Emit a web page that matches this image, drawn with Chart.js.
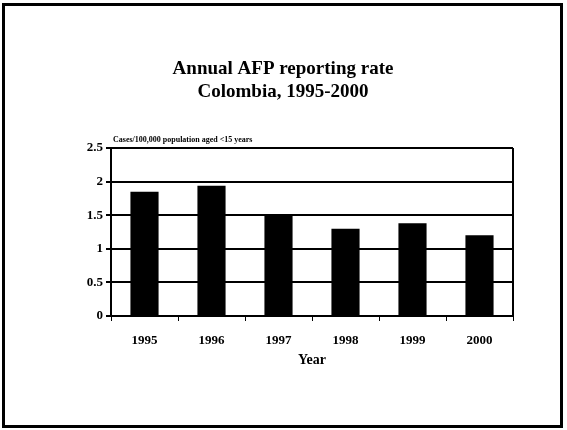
<!DOCTYPE html>
<html>
<head>
<meta charset="utf-8">
<script src="https://cdn.jsdelivr.net/npm/chart.js@4/dist/chart.umd.min.js"></script>
<style>
  html, body { margin: 0; padding: 0; background: #fff; }
  #wrap { width: 567px; height: 430px; }
</style>
</head>
<body>
<div id="wrap"><canvas id="afpChart" width="567" height="430"></canvas></div>
<script>
// data
const years = ["1995", "1996", "1997", "1998", "1999", "2000"];
const rates = [1.85, 1.94, 1.5, 1.3, 1.38, 1.2];
const yTicks = [0, 0.5, 1, 1.5, 2, 2.5];
const titleLines = ["Annual AFP reporting rate", "Colombia, 1995-2000"];
const yUnitLabel = "Cases/100,000 population aged <15 years";
const xTitle = "Year";

const serif = "'Liberation Serif', 'DejaVu Serif', serif";

// slide frame, titles, unit label and plot border
const slideDecor = {
  id: "slideDecor",
  beforeDraw(chart) {
    const c = chart.ctx;
    c.save();
    c.fillStyle = "#fff";
    c.fillRect(0, 0, chart.width, chart.height);
    c.restore();
  },
  afterDraw(chart) {
    const c = chart.ctx;
    const a = chart.chartArea;
    c.save();
    // outer frame
    c.strokeStyle = "#000";
    c.lineWidth = 3;
    c.strokeRect(3.5, 4.5, 558, 422);
    // title
    c.fillStyle = "#000";
    c.textAlign = "center";
    c.textBaseline = "alphabetic";
    c.font = "bold 19px " + serif;
    c.fillText(titleLines[0], 283, 74);
    c.fillText(titleLines[1], 283, 97);
    // unit label above the y axis
    c.textAlign = "left";
    c.font = "bold 8px " + serif;
    c.fillText(yUnitLabel, 113, 142);
    // right border of the plot
    c.lineWidth = 2;
    c.beginPath();
    c.moveTo(a.right, a.top);
    c.lineTo(a.right, a.bottom);
    c.stroke();
    c.restore();
  }
};

new Chart(document.getElementById("afpChart"), {
  type: "bar",
  data: {
    labels: years,
    datasets: [{
      label: "AFP rate",
      data: rates,
      backgroundColor: "#000",
      borderWidth: 0,
      barPercentage: 0.84,
      categoryPercentage: 0.5
    }]
  },
  options: {
    responsive: false,
    animation: false,
    layout: { padding: { left: 0, top: 148, right: 54, bottom: 61 } },
    plugins: {
      legend: { display: false },
      title: { display: false },
      tooltip: { enabled: false }
    },
    scales: {
      x: {
        afterFit(scale) { scale.height = 53; },
        grid: {
          display: true,
          offset: true,
          drawOnChartArea: false,
          drawTicks: true,
          tickLength: 5,
          color: "#000",
          lineWidth: 1
        },
        border: { display: true, color: "#000", width: 2 },
        ticks: {
          color: "#000",
          padding: 12,
          font: { family: serif, size: 13, weight: "bold" }
        },
        title: {
          display: true,
          text: xTitle,
          color: "#000",
          padding: { top: 4, bottom: 0 },
          font: { family: serif, size: 14, weight: "bold" }
        }
      },
      y: {
        min: 0,
        max: 2.5,
        afterFit(scale) { scale.width = 111; },
        afterBuildTicks(scale) { scale.ticks = yTicks.map(v => ({ value: v })); },
        grid: {
          color: "#000",
          lineWidth: 2,
          tickLength: 5
        },
        border: { display: true, color: "#000", width: 2 },
        ticks: {
          color: "#000",
          padding: 3,
          font: { family: serif, size: 13, weight: "bold" },
          callback: v => String(v)
        }
      }
    }
  },
  plugins: [slideDecor]
});
</script>
</body>
</html>
